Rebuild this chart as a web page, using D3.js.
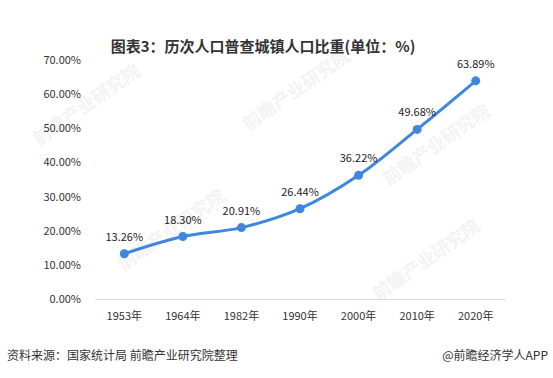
<!DOCTYPE html>
<html>
<head>
<meta charset="UTF-8">
<title>城镇人口比重</title>
<script src="https://d3js.org/d3.v7.min.js"></script>
<style>
  body { margin: 0; background: #fff; }
  text { font-family: "Microsoft YaHei", "Noto Sans CJK SC", sans-serif; }
</style>
</head>
<body>
<div id="chart"></div>
<script>
  // data
  const years = ["1953年", "1964年", "1982年", "1990年", "2000年", "2010年", "2020年"];
  const urbanShare = [13.26, 18.30, 20.91, 26.44, 36.22, 49.68, 63.89];
  const yTicks = [0, 10, 20, 30, 40, 50, 60, 70];

  const width = 553, height = 378;
  const margin = { top: 60, right: 48, bottom: 79, left: 95 };

  const svg = d3.select("#chart")
    .append("svg")
    .attr("width", width)
    .attr("height", height);

  // faint watermarks
  const marks = [[90, 110], [300, 95], [175, 235], [440, 150], [430, 265]];
  svg.selectAll(".wm")
    .data(marks)
    .join("text")
    .attr("class", "wm")
    .attr("transform", d => `translate(${d[0]},${d[1]}) rotate(-35)`)
    .attr("text-anchor", "middle")
    .attr("font-size", 18)
    .attr("font-weight", "bold")
    .attr("fill", "#f3f3f3")
    .text("前瞻产业研究院");

  svg.append("text")
    .attr("x", 263)
    .attr("y", 52)
    .attr("text-anchor", "middle")
    .attr("font-size", 15)
    .attr("font-weight", "bold")
    .attr("fill", "#333")
    .text("图表3：历次人口普查城镇人口比重(单位：%)");

  const x = d3.scaleBand()
    .domain(years)
    .range([margin.left, width - margin.right]);

  const y = d3.scaleLinear()
    .domain([0, 70])
    .range([height - margin.bottom, margin.top]);

  // y tick labels (no axis line)
  svg.append("g")
    .attr("transform", `translate(${margin.left - 11},0)`)
    .call(d3.axisLeft(y).tickValues(yTicks).tickSize(0).tickFormat(d => d.toFixed(2) + "%"))
    .call(g => g.select(".domain").remove())
    .call(g => g.selectAll("text")
      .attr("font-size", 11)
      .attr("fill", "#333")
      .style("font-family", "'Microsoft YaHei', 'Noto Sans CJK SC', sans-serif"));

  // x axis
  svg.append("g")
    .attr("transform", `translate(0,${height - margin.bottom})`)
    .call(d3.axisBottom(x).tickSize(0).tickPadding(13))
    .call(g => g.select(".domain").attr("stroke", "#d9d9d9"))
    .call(g => g.selectAll("text")
      .attr("font-size", 11)
      .attr("fill", "#333")
      .style("font-family", "'Microsoft YaHei', 'Noto Sans CJK SC', sans-serif"));

  const cx = (d, i) => x(years[i]) + x.bandwidth() / 2;

  const line = d3.line()
    .x((d, i) => cx(d, i))
    .y(d => y(d))
    .curve(d3.curveCatmullRom.alpha(0.5));

  svg.append("path")
    .datum(urbanShare)
    .attr("d", line)
    .attr("fill", "none")
    .attr("stroke", "#3e86e0")
    .attr("stroke-width", 3);

  svg.selectAll(".dot")
    .data(urbanShare)
    .join("circle")
    .attr("class", "dot")
    .attr("cx", cx)
    .attr("cy", d => y(d))
    .attr("r", 4.5)
    .attr("fill", "#3e86e0");

  svg.selectAll(".lbl")
    .data(urbanShare)
    .join("text")
    .attr("class", "lbl")
    .attr("x", cx)
    .attr("y", d => y(d) - 13)
    .attr("text-anchor", "middle")
    .attr("font-size", 11)
    .attr("fill", "#222")
    .text(d => d.toFixed(2) + "%");

  // footer
  svg.append("text")
    .attr("x", 7)
    .attr("y", 360)
    .attr("font-size", 12)
    .attr("fill", "#333")
    .text("资料来源：国家统计局 前瞻产业研究院整理");

  svg.append("text")
    .attr("x", 548)
    .attr("y", 360)
    .attr("text-anchor", "end")
    .attr("font-size", 12)
    .attr("fill", "#333")
    .text("@前瞻经济学人APP");
</script>
</body>
</html>
